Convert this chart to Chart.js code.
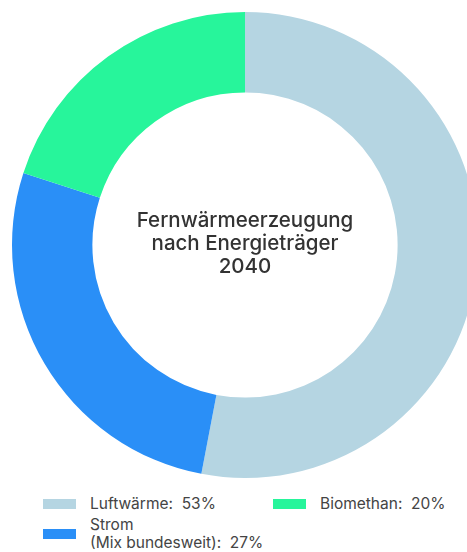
<!DOCTYPE html>
<html lang="de">
<head>
  <meta charset="UTF-8">
  <title>Fernwärmeerzeugung 2040</title>
  <script src="https://cdn.jsdelivr.net/npm/chart.js"></script>
  <style>
    html, body {
      margin: 0;
      padding: 0;
      width: 467px;
      height: 552px;
      overflow: hidden;
      background: #fff;
      font-family: "Inter", "Noto Sans", sans-serif;
    }
    #wrap {
      position: absolute;
      left: 0;
      top: 0;
      width: 490px;
      height: 490px;
    }
    #legend {
      position: absolute;
      left: 43px;
      top: 492px;
      display: grid;
      grid-template-columns: 230px 180px;
      grid-auto-flow: column;
      grid-template-rows: 24px 36px;
      font-size: 15.5px;
      color: #444;
    }
    .item {
      display: flex;
      align-items: center;
    }
    .box {
      width: 33px;
      height: 10px;
      margin-right: 14px;
      flex: none;
    }
    .lbl { line-height: 18px; white-space: pre; }
  </style>
</head>
<body>
  <div id="wrap"><canvas id="donut" width="490" height="490"></canvas></div>
  <div id="legend"></div>

  <script>
    const labels = ['Luftwärme', 'Strom\n(Mix bundesweit)', 'Biomethan'];
    const shares = [53, 27, 20];
    const colors = ['#b5d5e2', '#2a8ff7', '#27f59b'];
    const centerLines = ['Fernwärmeerzeugung', 'nach Energieträger', '2040'];

    // title in the hole of the ring
    const centerText = {
      id: 'centerText',
      afterDraw(chart) {
        const c = chart.ctx;
        const m = chart.getDatasetMeta(0).data[0];
        c.save();
        c.fillStyle = '#333';
        c.font = '500 20.5px Inter, sans-serif';
        c.textAlign = 'center';
        c.textBaseline = 'middle';
        centerLines.forEach((t, i) => {
          c.fillText(t, m.x, m.y - 24 + i * 23);
        });
        c.restore();
      }
    };

    const ctx = document.getElementById('donut').getContext('2d');
    const chart = new Chart(ctx, {
      type: 'doughnut',
      data: {
        labels: labels,
        datasets: [{
          data: shares,
          backgroundColor: colors,
          borderWidth: 0
        }]
      },
      options: {
        responsive: false,
        animation: false,
        cutout: '65.5%',
        layout: { padding: 12 },
        plugins: {
          legend: { display: false },
          tooltip: { enabled: false }
        }
      },
      plugins: [centerText]
    });

    // legend below the chart, filled column by column
    const legend = document.getElementById('legend');
    const order = [0, 1, 2];
    order.forEach(i => {
      const item = document.createElement('div');
      item.className = 'item';
      const box = document.createElement('span');
      box.className = 'box';
      box.style.background = colors[i];
      const lbl = document.createElement('span');
      lbl.className = 'lbl';
      lbl.textContent = labels[i] + ':  ' + shares[i] + '%';
      item.appendChild(box);
      item.appendChild(lbl);
      legend.appendChild(item);
    });
  </script>
</body>
</html>
